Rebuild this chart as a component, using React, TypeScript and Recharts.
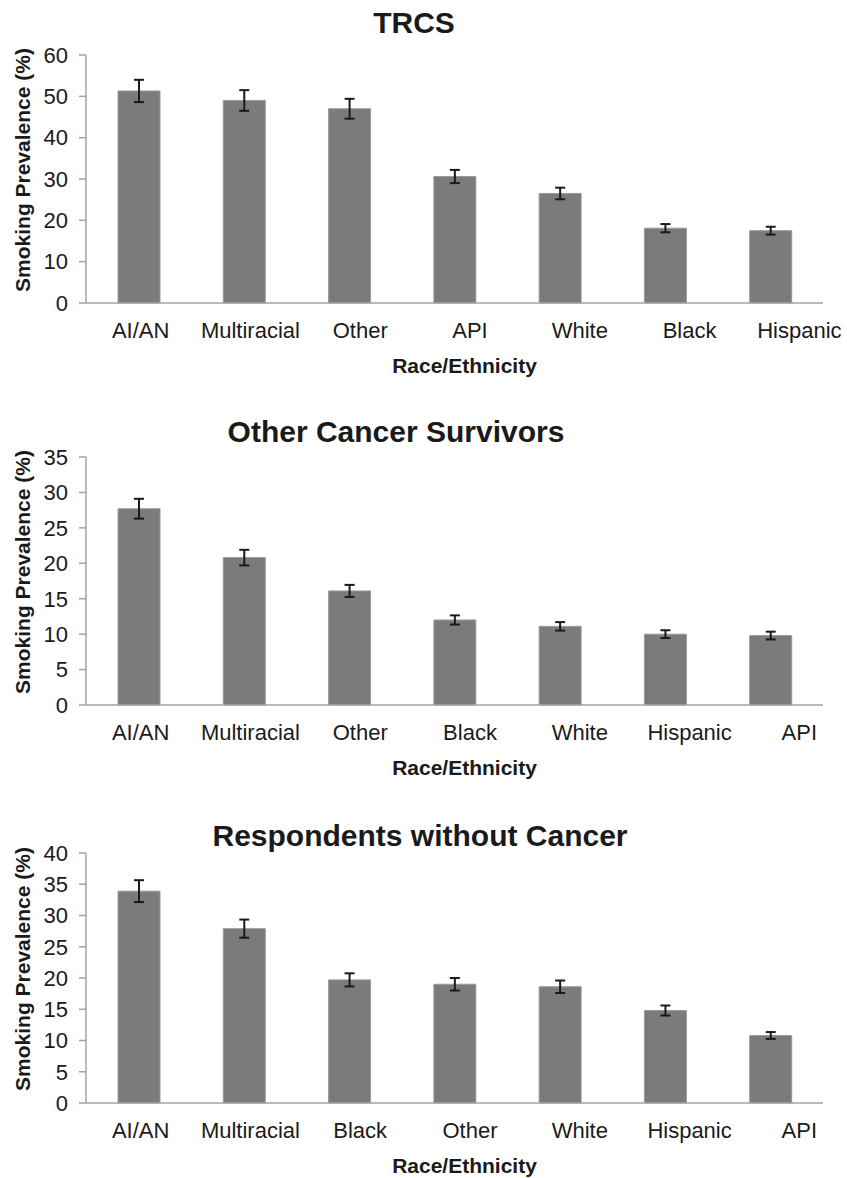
import { BarChart, Bar, XAxis, YAxis, ErrorBar } from "recharts";

// TRCS
const trcsGroups = ["AI/AN", "Multiracial", "Other", "API", "White", "Black", "Hispanic"];
const trcsValues = [51.3, 49.0, 47.0, 30.6, 26.5, 18.1, 17.5];
const trcsErrors = [2.7, 2.5, 2.4, 1.6, 1.4, 1.0, 0.95];
const trcsTicks = [0, 10, 20, 30, 40, 50, 60];

// Other cancer survivors
const otherGroups = ["AI/AN", "Multiracial", "Other", "Black", "White", "Hispanic", "API"];
const otherValues = [27.7, 20.8, 16.1, 12.0, 11.1, 10.0, 9.8];
const otherErrors = [1.4, 1.1, 0.85, 0.65, 0.6, 0.55, 0.55];
const otherTicks = [0, 5, 10, 15, 20, 25, 30, 35];

// Respondents without cancer
const noCancerGroups = ["AI/AN", "Multiracial", "Black", "Other", "White", "Hispanic", "API"];
const noCancerValues = [33.9, 27.9, 19.7, 19.0, 18.6, 14.8, 10.8];
const noCancerErrors = [1.75, 1.45, 1.05, 1.0, 1.0, 0.8, 0.55];
const noCancerTicks = [0, 5, 10, 15, 20, 25, 30, 35, 40];

const FONT = "'Liberation Sans', Arial, Helvetica, sans-serif";
const AXIS_GREY = "#a3a3a3";
const BAR_GREY = "#7b7b7b";

const buildRows = (groups: string[], values: number[], errors: number[]) =>
  groups.map((group, i) => ({ group, value: values[i], err: errors[i] }));

const CategoryTick = (props: any) => {
  const { x, y, payload, index } = props;
  return (
    <text
      x={x + 2 + index * 4.5}
      y={y}
      dy="0.71em"
      textAnchor="middle"
      fontSize={22}
      fontFamily={FONT}
      fill="#1a1a1a"
    >
      {payload.value}
    </text>
  );
};

type PanelProps = {
  title: string;
  titleX: number;
  titleY: number;
  sliceTop: number;
  sliceHeight: number;
  plotTop: number;
  plotBottom: number;
  labelOffset: number;
  groups: string[];
  values: number[];
  errors: number[];
  ticks: number[];
};

const Panel = (p: PanelProps) => {
  const rows = buildRows(p.groups, p.values, p.errors);
  const max = p.ticks[p.ticks.length - 1];
  return (
    <div style={{ position: "absolute", left: 0, top: p.sliceTop, width: 847, height: p.sliceHeight }}>
      <BarChart
        width={847}
        height={p.sliceHeight}
        data={rows}
        barSize={42}
        margin={{ top: p.plotTop - p.sliceTop, right: 24, bottom: 0, left: 0 }}
      >
        <XAxis
          dataKey="group"
          height={p.sliceTop + p.sliceHeight - p.plotBottom}
          tickLine={false}
          tickSize={0}
          tickMargin={19}
          axisLine={{ stroke: AXIS_GREY, strokeWidth: 1.5 }}
          tick={<CategoryTick />}
          interval={0}
          label={{
            value: "Race/Ethnicity",
            position: "insideBottom",
            offset: p.labelOffset,
            dx: 10,
            style: { fontFamily: FONT, fontSize: 21, fontWeight: "bold", fill: "#1a1a1a" },
          }}
        />
        <YAxis
          width={86}
          domain={[0, max]}
          ticks={p.ticks}
          interval={0}
          tickSize={7}
          tickMargin={11}
          axisLine={{ stroke: AXIS_GREY, strokeWidth: 1.5 }}
          tickLine={{ stroke: AXIS_GREY, strokeWidth: 1.5 }}
          tick={{ fontFamily: FONT, fontSize: 22, fill: "#1a1a1a" }}
          label={{
            value: "Smoking Prevalence (%)",
            angle: -90,
            position: "insideLeft",
            offset: 23,
            dy: -9,
            style: { fontFamily: FONT, fontSize: 21, fontWeight: "bold", fill: "#1a1a1a", textAnchor: "middle" },
          }}
        />
        <Bar dataKey="value" fill={BAR_GREY} stroke="#9a9a9a" strokeWidth={1} isAnimationActive={false}>
          <ErrorBar dataKey="err" width={5} stroke="#1a1a1a" strokeWidth={2} />
        </Bar>
      </BarChart>
      <svg
        width={847}
        height={p.titleY - p.sliceTop + 14}
        style={{ position: "absolute", left: 0, top: 0, pointerEvents: "none" }}
      >
        <text
          x={p.titleX}
          y={p.titleY - p.sliceTop}
          textAnchor="middle"
          fontFamily={FONT}
          fontSize={30}
          fontWeight="bold"
          fill="#1a1a1a"
        >
          {p.title}
        </text>
      </svg>
    </div>
  );
};

export default function App() {
  return (
    <div
      style={{
        position: "absolute",
        left: 0,
        top: 0,
        width: 847,
        height: 1178,
        background: "#fff",
      }}
    >
      <Panel
        title="TRCS"
        titleX={414}
        titleY={33}
        sliceTop={0}
        sliceHeight={390}
        plotTop={55}
        plotBottom={303}
        labelOffset={17}
        groups={trcsGroups}
        values={trcsValues}
        errors={trcsErrors}
        ticks={trcsTicks}
      />
      <Panel
        title="Other Cancer Survivors"
        titleX={396}
        titleY={442}
        sliceTop={390}
        sliceHeight={400}
        plotTop={457}
        plotBottom={705}
        labelOffset={15}
        groups={otherGroups}
        values={otherValues}
        errors={otherErrors}
        ticks={otherTicks}
      />
      <Panel
        title="Respondents without Cancer"
        titleX={420}
        titleY={846}
        sliceTop={790}
        sliceHeight={388}
        plotTop={853}
        plotBottom={1103}
        labelOffset={5}
        groups={noCancerGroups}
        values={noCancerValues}
        errors={noCancerErrors}
        ticks={noCancerTicks}
      />
    </div>
  );
}
